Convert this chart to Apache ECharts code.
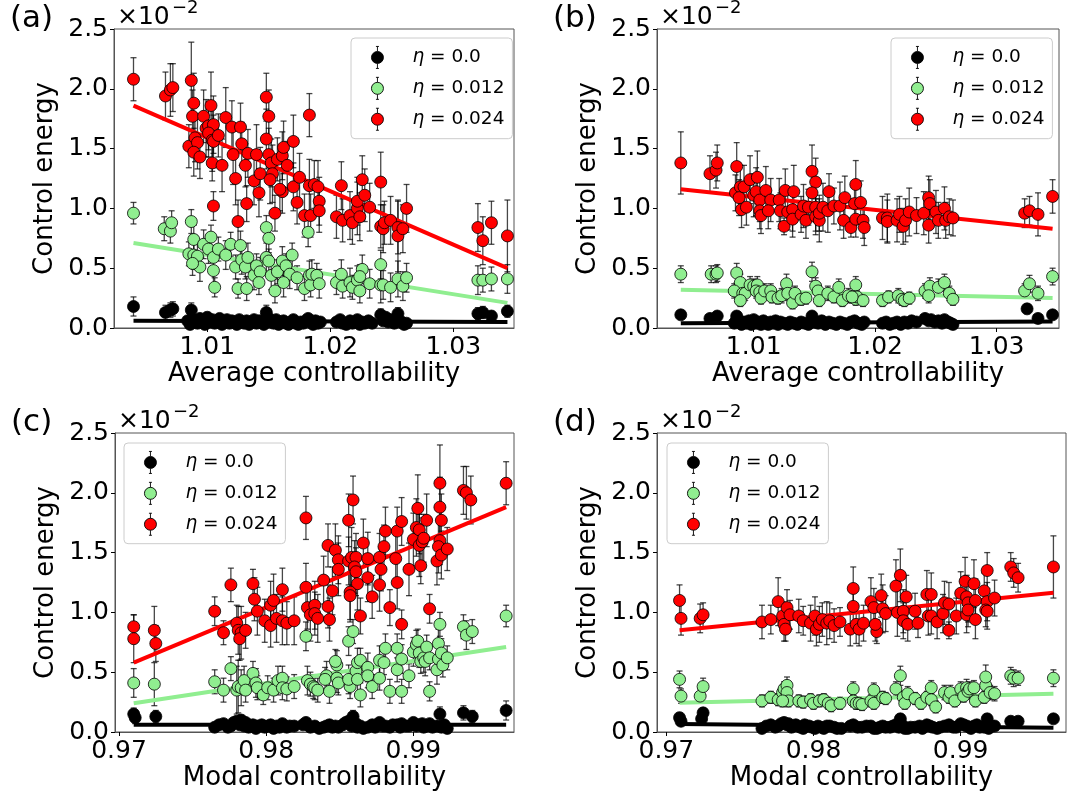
<!DOCTYPE html>
<html><head><meta charset="utf-8">
<script src="https://cdn.jsdelivr.net/npm/echarts@6/dist/echarts.min.js"></script>
<style>html,body{margin:0;padding:0;background:#fff}#c{width:1069px;height:801px}</style>
</head><body><div id="c"></div>
<script>
// ---------- tick labels ----------
const yTicks = [0, 0.5, 1.0, 1.5, 2.0, 2.5];
const avgTicks = [1.01, 1.02, 1.03];
const modTicks = [0.97, 0.98, 0.99];
const seriesNames = ['0.0', '0.012', '0.024'];

// ---------- panel (a): average controllability, [x, y(x1e-2), err] ----------
const aRed = [[1.0040,2.08,0.18],[1.0066,1.94,0.20],[1.0070,1.99,0.22],[1.0072,2.01,0.20],[1.0087,2.07,0.32],[1.0089,1.88,0.25],[1.0088,1.77,0.22],[1.0085,1.52,0.18],[1.0090,1.59,0.20],[1.0092,1.55,0.22],[1.0089,1.47,0.20],[1.0094,1.43,0.18],[1.0097,1.77,0.22],[1.0099,1.67,0.24],[1.0101,1.69,0.20],[1.0103,1.86,0.28],[1.0105,1.70,0.24],[1.0101,1.63,0.20],[1.0104,1.57,0.26],[1.0105,1.56,0.22],[1.0109,1.61,0.18],[1.0104,1.38,0.15],[1.0105,1.02,0.12],[1.0112,1.36,0.22],[1.0115,1.76,0.25],[1.0120,1.68,0.22],[1.0127,1.68,0.20],[1.0128,1.54,0.18],[1.0121,1.45,0.25],[1.0123,1.25,0.22],[1.0133,1.46,0.20],[1.0131,1.36,0.18],[1.0132,1.04,0.15],[1.0125,0.89,0.18],[1.0138,1.23,0.20],[1.0140,1.45,0.25],[1.0142,1.13,0.20],[1.0143,1.29,0.22],[1.0148,1.93,0.20],[1.0150,1.77,0.22],[1.0148,1.58,0.25],[1.0150,1.45,0.22],[1.0152,1.38,0.20],[1.0153,1.29,0.24],[1.0151,1.24,0.20],[1.0155,0.96,0.15],[1.0157,1.41,0.18],[1.0161,1.44,0.20],[1.0162,1.51,0.22],[1.0165,1.36,0.20],[1.0161,1.14,0.18],[1.0159,1.16,0.18],[1.0170,1.56,0.22],[1.0170,1.18,0.20],[1.0173,1.05,0.18],[1.0175,1.26,0.20],[1.0179,0.94,0.18],[1.0183,1.78,0.18],[1.0183,1.19,0.22],[1.0184,0.94,0.18],[1.0187,1.20,0.20],[1.0190,1.18,0.22],[1.0191,1.06,0.20],[1.0191,0.98,0.18],[1.0205,0.93,0.18],[1.0209,1.19,0.20],[1.0210,0.90,0.18],[1.0216,0.94,0.20],[1.0218,0.88,0.18],[1.0222,1.00,0.22],[1.0222,1.06,0.20],[1.0224,0.93,0.20],[1.0226,1.24,0.20],[1.0228,1.11,0.22],[1.0232,1.01,0.20],[1.0241,1.22,0.25],[1.0241,0.85,0.18],[1.0243,0.83,0.20],[1.0244,0.88,0.18],[1.0249,0.90,0.20],[1.0255,0.84,0.22],[1.0255,0.77,0.30],[1.0259,0.83,0.20],[1.0262,1.00,0.20],[1.0320,0.84,0.20],[1.0324,0.73,0.20],[1.0331,0.88,0.18],[1.0344,0.77,0.30]];
const aGreen = [[1.0040,0.96,0.09],[1.0065,0.83,0.10],[1.0070,0.81,0.10],[1.0071,0.88,0.10],[1.0087,0.89,0.10],[1.0089,0.74,0.12],[1.0085,0.62,0.10],[1.0089,0.61,0.12],[1.0092,0.60,0.10],[1.0094,0.51,0.12],[1.0088,0.54,0.10],[1.0097,0.70,0.12],[1.0103,0.76,0.10],[1.0101,0.66,0.12],[1.0105,0.59,0.10],[1.0105,0.48,0.12],[1.0106,0.34,0.08],[1.0109,0.66,0.10],[1.0115,0.61,0.12],[1.0119,0.70,0.10],[1.0127,0.69,0.12],[1.0123,0.51,0.10],[1.0128,0.57,0.12],[1.0131,0.51,0.10],[1.0133,0.59,0.12],[1.0125,0.33,0.08],[1.0132,0.33,0.10],[1.0138,0.44,0.12],[1.0140,0.52,0.10],[1.0143,0.47,0.12],[1.0142,0.38,0.10],[1.0148,0.84,0.10],[1.0150,0.75,0.12],[1.0148,0.59,0.12],[1.0150,0.56,0.10],[1.0152,0.44,0.12],[1.0157,0.47,0.10],[1.0161,0.56,0.12],[1.0164,0.52,0.10],[1.0169,0.61,0.10],[1.0167,0.45,0.12],[1.0173,0.42,0.10],[1.0155,0.31,0.10],[1.0162,0.38,0.12],[1.0179,0.33,0.10],[1.0183,0.44,0.12],[1.0184,0.36,0.10],[1.0182,0.80,0.12],[1.0185,0.45,0.12],[1.0189,0.44,0.10],[1.0191,0.37,0.12],[1.0205,0.38,0.10],[1.0209,0.45,0.12],[1.0210,0.35,0.10],[1.0216,0.38,0.12],[1.0218,0.34,0.10],[1.0222,0.40,0.12],[1.0224,0.31,0.10],[1.0226,0.49,0.12],[1.0224,0.43,0.10],[1.0232,0.37,0.12],[1.0241,0.53,0.12],[1.0241,0.36,0.15],[1.0243,0.36,0.12],[1.0249,0.34,0.12],[1.0255,0.41,0.15],[1.0259,0.35,0.12],[1.0262,0.42,0.12],[1.0320,0.40,0.12],[1.0324,0.40,0.10],[1.0331,0.41,0.10],[1.0344,0.41,0.12]];
const aBlack = [[1.0040,0.18,0.08],[1.0066,0.13,0.06],[1.0070,0.15,0.06],[1.0072,0.16,0.06],[1.0087,0.15,0.06],[1.0148,0.13,0.06],[1.0241,0.11,0.05],[1.0255,0.12,0.05],[1.0320,0.12,0.05],[1.0324,0.13,0.05],[1.0331,0.10,0.04],[1.0344,0.14,0.05],
  [1.0084,0.06,0.03],[1.0086,0.03,0.03],[1.0088,0.07,0.03],[1.0090,0.05,0.03],[1.0092,0.04,0.03],[1.0094,0.08,0.03],[1.0096,0.06,0.03],[1.0098,0.03,0.03],[1.0100,0.09,0.04],[1.0102,0.05,0.03],[1.0104,0.07,0.03],[1.0106,0.04,0.03],[1.0108,0.06,0.03],[1.0110,0.08,0.03],[1.0112,0.03,0.03],[1.0114,0.05,0.03],[1.0116,0.07,0.03],[1.0118,0.04,0.03],[1.0120,0.06,0.03],[1.0122,0.05,0.03],[1.0124,0.03,0.03],[1.0126,0.07,0.03],[1.0128,0.05,0.03],[1.0130,0.04,0.03],[1.0132,0.06,0.03],[1.0134,0.03,0.03],[1.0136,0.05,0.03],[1.0138,0.07,0.03],[1.0140,0.04,0.03],[1.0142,0.06,0.03],[1.0144,0.05,0.03],[1.0146,0.03,0.03],[1.0150,0.08,0.03],[1.0152,0.05,0.03],[1.0154,0.04,0.03],[1.0156,0.07,0.03],[1.0158,0.03,0.03],[1.0160,0.05,0.03],[1.0162,0.06,0.03],[1.0164,0.04,0.03],[1.0166,0.03,0.03],[1.0168,0.05,0.03],[1.0170,0.07,0.03],[1.0172,0.04,0.03],[1.0174,0.03,0.03],[1.0176,0.05,0.03],[1.0178,0.04,0.03],[1.0180,0.06,0.03],[1.0182,0.08,0.03],[1.0184,0.05,0.03],[1.0186,0.03,0.03],[1.0188,0.06,0.03],[1.0190,0.04,0.03],[1.0192,0.05,0.03],[1.0205,0.05,0.03],[1.0208,0.07,0.03],[1.0210,0.04,0.03],[1.0213,0.03,0.03],[1.0216,0.06,0.03],[1.0218,0.04,0.03],[1.0220,0.05,0.03],[1.0222,0.07,0.03],[1.0224,0.03,0.03],[1.0226,0.05,0.03],[1.0228,0.04,0.03],[1.0231,0.06,0.03],[1.0234,0.04,0.03],[1.0243,0.06,0.03],[1.0245,0.09,0.03],[1.0247,0.05,0.03],[1.0249,0.07,0.03],[1.0252,0.04,0.03],[1.0255,0.06,0.03],[1.0258,0.05,0.03],[1.0260,0.03,0.03],[1.0262,0.04,0.03]];
const aFitRed = [[1.0040,1.86],[1.0344,0.50]];
const aFitGreen = [[1.0040,0.71],[1.0344,0.21]];
const aFitBlack = [[1.0040,0.06],[1.0344,0.05]];

// ---------- panel (b): average controllability ----------
const bRed = [[1.0040,1.38,0.26],[1.0064,1.29,0.15],[1.0069,1.32,0.15],[1.0070,1.38,0.15],[1.0086,1.35,0.20],[1.0085,1.13,0.15],[1.0089,1.18,0.18],[1.0088,1.09,0.15],[1.0090,0.99,0.15],[1.0092,1.18,0.18],[1.0094,1.01,0.15],[1.0097,1.24,0.20],[1.0100,1.11,0.18],[1.0103,1.26,0.22],[1.0102,1.14,0.20],[1.0105,1.07,0.18],[1.0105,0.98,0.15],[1.0106,0.94,0.15],[1.0110,1.15,0.20],[1.0114,1.07,0.18],[1.0112,0.98,0.15],[1.0121,1.07,0.18],[1.0122,0.98,0.15],[1.0125,0.85,0.07],[1.0126,1.15,0.18],[1.0128,0.97,0.15],[1.0132,0.99,0.18],[1.0132,0.91,0.15],[1.0133,1.14,0.22],[1.0139,0.95,0.15],[1.0141,1.02,0.18],[1.0143,0.90,0.15],[1.0145,1.01,0.15],[1.0148,1.31,0.22],[1.0151,1.22,0.20],[1.0148,1.13,0.18],[1.0151,1.01,0.20],[1.0151,0.93,0.15],[1.0154,0.90,0.18],[1.0154,0.96,0.15],[1.0157,1.01,0.20],[1.0161,0.98,0.18],[1.0162,1.14,0.15],[1.0166,1.02,0.15],[1.0171,1.02,0.20],[1.0174,0.90,0.15],[1.0175,1.09,0.18],[1.0180,0.84,0.08],[1.0184,1.20,0.20],[1.0183,1.04,0.18],[1.0184,0.91,0.15],[1.0188,1.05,0.18],[1.0190,0.90,0.15],[1.0191,0.84,0.15],[1.0206,0.92,0.18],[1.0210,0.92,0.20],[1.0210,0.89,0.18],[1.0218,0.90,0.18],[1.0220,0.95,0.15],[1.0223,0.85,0.15],[1.0225,0.90,0.18],[1.0228,0.97,0.20],[1.0234,0.94,0.15],[1.0240,0.96,0.18],[1.0244,1.09,0.18],[1.0245,1.04,0.20],[1.0244,0.86,0.15],[1.0250,0.97,0.18],[1.0252,0.90,0.15],[1.0257,1.00,0.18],[1.0258,0.90,0.15],[1.0261,0.93,0.15],[1.0264,0.92,0.15],[1.0323,0.96,0.12],[1.0327,0.98,0.12],[1.0334,0.95,0.18],[1.0346,1.10,0.14]];
const bGreen = [[1.0040,0.45,0.07],[1.0065,0.45,0.07],[1.0069,0.45,0.07],[1.0070,0.46,0.07],[1.0086,0.46,0.08],[1.0089,0.38,0.07],[1.0084,0.31,0.06],[1.0091,0.29,0.06],[1.0093,0.29,0.06],[1.0097,0.36,0.07],[1.0100,0.35,0.06],[1.0103,0.36,0.07],[1.0102,0.31,0.06],[1.0105,0.30,0.06],[1.0106,0.25,0.05],[1.0109,0.31,0.06],[1.0114,0.31,0.06],[1.0115,0.26,0.05],[1.0120,0.25,0.05],[1.0123,0.27,0.06],[1.0127,0.37,0.08],[1.0128,0.29,0.06],[1.0132,0.21,0.05],[1.0134,0.29,0.06],[1.0139,0.24,0.05],[1.0143,0.25,0.05],[1.0148,0.47,0.08],[1.0151,0.35,0.07],[1.0153,0.31,0.06],[1.0154,0.23,0.05],[1.0161,0.29,0.06],[1.0166,0.26,0.05],[1.0170,0.34,0.07],[1.0173,0.23,0.05],[1.0178,0.27,0.06],[1.0184,0.36,0.07],[1.0184,0.24,0.05],[1.0089,0.23,0.05],[1.0185,0.26,0.05],[1.0190,0.23,0.05],[1.0181,0.26,0.05],[1.0206,0.23,0.05],[1.0211,0.26,0.05],[1.0219,0.27,0.06],[1.0222,0.24,0.05],[1.0224,0.23,0.05],[1.0228,0.25,0.05],[1.0241,0.31,0.06],[1.0245,0.35,0.07],[1.0252,0.34,0.07],[1.0257,0.38,0.07],[1.0261,0.29,0.06],[1.0264,0.24,0.05],[1.0244,0.27,0.06],[1.0323,0.31,0.06],[1.0327,0.37,0.07],[1.0334,0.29,0.06],[1.0346,0.43,0.07]];
const bBlack = [[1.0040,0.11,0.03],[1.0064,0.08,0.03],[1.0070,0.10,0.03],[1.0086,0.10,0.03],[1.0148,0.10,0.03],[1.0325,0.16,0.04],[1.0334,0.08,0.03],[1.0346,0.11,0.03],
  [1.0084,0.04,0.02],[1.0086,0.07,0.02],[1.0088,0.06,0.02],[1.0090,0.03,0.02],[1.0092,0.05,0.02],[1.0094,0.04,0.02],[1.0096,0.06,0.02],[1.0098,0.03,0.02],[1.0100,0.07,0.02],[1.0102,0.04,0.02],[1.0104,0.05,0.02],[1.0106,0.03,0.02],[1.0108,0.06,0.02],[1.0110,0.04,0.02],[1.0112,0.03,0.02],[1.0114,0.05,0.02],[1.0116,0.04,0.02],[1.0118,0.06,0.02],[1.0120,0.03,0.02],[1.0122,0.05,0.02],[1.0125,0.04,0.02],[1.0128,0.03,0.02],[1.0130,0.05,0.02],[1.0133,0.04,0.02],[1.0136,0.03,0.02],[1.0139,0.05,0.02],[1.0142,0.04,0.02],[1.0145,0.03,0.02],[1.0150,0.05,0.02],[1.0153,0.04,0.02],[1.0156,0.06,0.02],[1.0159,0.03,0.02],[1.0162,0.05,0.02],[1.0165,0.04,0.02],[1.0168,0.03,0.02],[1.0171,0.05,0.02],[1.0174,0.04,0.02],[1.0177,0.03,0.02],[1.0180,0.05,0.02],[1.0183,0.06,0.02],[1.0186,0.04,0.02],[1.0189,0.03,0.02],[1.0191,0.05,0.02],[1.0206,0.04,0.02],[1.0209,0.05,0.02],[1.0212,0.03,0.02],[1.0215,0.04,0.02],[1.0218,0.05,0.02],[1.0221,0.03,0.02],[1.0224,0.05,0.02],[1.0227,0.04,0.02],[1.0230,0.06,0.02],[1.0234,0.05,0.02],[1.0241,0.08,0.03],[1.0244,0.06,0.02],[1.0246,0.07,0.02],[1.0249,0.05,0.02],[1.0252,0.06,0.02],[1.0255,0.04,0.02],[1.0257,0.07,0.02],[1.0260,0.05,0.02],[1.0262,0.04,0.02],[1.0264,0.03,0.02]];
const bFitRed = [[1.0040,1.16],[1.0346,0.83]];
const bFitGreen = [[1.0040,0.32],[1.0346,0.25]];
const bFitBlack = [[1.0040,0.04],[1.0346,0.055]];

// ---------- panel (c): modal controllability ----------
const cRed = [[0.9710,0.88,0.10],[0.9710,0.78,0.20],[0.9724,0.85,0.20],[0.9725,0.74,0.15],[0.9765,1.01,0.12],[0.9771,0.83,0.10],[0.9776,1.23,0.14],[0.9780,0.91,0.15],[0.9781,0.85,0.20],[0.9783,0.83,0.22],[0.9782,0.78,0.18],[0.9786,0.85,0.15],[0.9791,1.24,0.12],[0.9792,1.11,0.18],[0.9794,1.01,0.20],[0.9799,0.93,0.18],[0.9803,1.06,0.20],[0.9803,0.89,0.18],[0.9805,1.10,0.22],[0.9807,0.95,0.20],[0.9811,1.19,0.18],[0.9811,0.93,0.20],[0.9814,0.91,0.18],[0.9819,0.93,0.20],[0.9827,1.79,0.18],[0.9827,1.21,0.20],[0.9828,1.04,0.18],[0.9830,0.98,0.22],[0.9833,1.06,0.20],[0.9833,0.99,0.18],[0.9835,0.95,0.20],[0.9839,1.27,0.20],[0.9842,1.05,0.18],[0.9843,0.94,0.18],[0.9845,1.18,0.20],[0.9842,1.56,0.18],[0.9847,1.52,0.22],[0.9849,1.44,0.20],[0.9849,1.36,0.22],[0.9856,1.77,0.22],[0.9859,1.94,0.20],[0.9856,1.43,0.20],[0.9858,1.46,0.25],[0.9861,1.46,0.20],[0.9860,1.38,0.22],[0.9861,1.34,0.20],[0.9862,1.24,0.22],[0.9857,1.17,0.25],[0.9857,1.14,0.20],[0.9866,1.58,0.20],[0.9864,0.97,0.15],[0.9869,1.45,0.22],[0.9869,1.29,0.20],[0.9872,1.13,0.18],[0.9877,1.46,0.20],[0.9878,1.36,0.18],[0.9877,1.23,0.22],[0.9880,1.55,0.18],[0.9881,1.68,0.20],[0.9884,1.04,0.15],[0.9889,1.68,0.20],[0.9888,1.45,0.22],[0.9889,1.25,0.22],[0.9892,1.76,0.20],[0.9897,1.36,0.22],[0.9892,0.90,0.12],[0.9900,1.61,0.22],[0.9902,1.71,0.24],[0.9903,1.87,0.28],[0.9904,1.56,0.26],[0.9904,1.69,0.20],[0.9906,1.59,0.20],[0.9905,1.39,0.15],[0.9909,1.77,0.22],[0.9911,1.03,0.12],[0.9907,1.62,0.20],[0.9918,2.08,0.32],[0.9918,1.88,0.25],[0.9919,1.77,0.22],[0.9918,1.60,0.20],[0.9917,1.55,0.22],[0.9916,1.43,0.20],[0.9919,1.48,0.20],[0.9923,1.53,0.18],[0.9934,2.02,0.20],[0.9936,2.00,0.22],[0.9939,1.94,0.20],[0.9963,2.08,0.18]];
const cGreen = [[0.9710,0.41,0.12],[0.9724,0.40,0.18],[0.9765,0.42,0.10],[0.9771,0.35,0.10],[0.9776,0.53,0.10],[0.9780,0.35,0.20],[0.9781,0.38,0.22],[0.9783,0.37,0.15],[0.9785,0.43,0.12],[0.9786,0.35,0.10],[0.9791,0.49,0.10],[0.9793,0.41,0.12],[0.9794,0.37,0.10],[0.9798,0.31,0.08],[0.9801,0.37,0.10],[0.9805,0.35,0.10],[0.9808,0.43,0.12],[0.9811,0.45,0.10],[0.9811,0.37,0.10],[0.9814,0.36,0.10],[0.9819,0.38,0.10],[0.9827,0.80,0.12],[0.9828,0.43,0.12],[0.9830,0.40,0.10],[0.9832,0.38,0.10],[0.9833,0.37,0.10],[0.9835,0.35,0.10],[0.9841,0.47,0.12],[0.9843,0.34,0.10],[0.9840,0.44,0.10],[0.9848,0.56,0.12],[0.9847,0.59,0.10],[0.9848,0.45,0.12],[0.9849,0.41,0.10],[0.9856,0.76,0.12],[0.9859,0.84,0.10],[0.9857,0.38,0.10],[0.9856,0.44,0.12],[0.9861,0.51,0.10],[0.9862,0.58,0.12],[0.9864,0.60,0.10],[0.9862,0.44,0.12],[0.9864,0.31,0.10],[0.9869,0.54,0.12],[0.9869,0.47,0.10],[0.9872,0.38,0.10],[0.9877,0.60,0.12],[0.9877,0.45,0.10],[0.9881,0.70,0.12],[0.9880,0.58,0.10],[0.9884,0.34,0.10],[0.9889,0.70,0.12],[0.9889,0.52,0.10],[0.9892,0.34,0.10],[0.9892,0.61,0.12],[0.9897,0.47,0.10],[0.9900,0.67,0.12],[0.9902,0.73,0.12],[0.9903,0.76,0.10],[0.9904,0.66,0.12],[0.9905,0.59,0.10],[0.9907,0.62,0.12],[0.9909,0.71,0.10],[0.9911,0.34,0.08],[0.9908,0.59,0.12],[0.9911,0.62,0.10],[0.9916,0.52,0.12],[0.9917,0.61,0.10],[0.9917,0.74,0.12],[0.9918,0.90,0.10],[0.9919,0.66,0.12],[0.9920,0.56,0.10],[0.9923,0.62,0.10],[0.9934,0.88,0.10],[0.9936,0.81,0.12],[0.9940,0.84,0.10],[0.9963,0.97,0.09]];
const cBlack = [[0.9710,0.15,0.05],[0.9711,0.12,0.05],[0.9725,0.13,0.05],[0.9963,0.18,0.08],[0.9934,0.16,0.06],[0.9940,0.13,0.05],[0.9918,0.15,0.06],[0.9859,0.13,0.05],
  [0.9765,0.04,0.03],[0.9768,0.06,0.03],[0.9771,0.07,0.03],[0.9774,0.04,0.03],[0.9776,0.05,0.03],[0.9778,0.08,0.03],[0.9780,0.09,0.04],[0.9782,0.06,0.03],[0.9783,0.10,0.04],[0.9785,0.05,0.03],[0.9786,0.08,0.03],[0.9788,0.04,0.03],[0.9791,0.06,0.03],[0.9793,0.03,0.03],[0.9794,0.05,0.03],[0.9797,0.06,0.03],[0.9799,0.04,0.03],[0.9801,0.05,0.03],[0.9803,0.06,0.03],[0.9805,0.03,0.03],[0.9807,0.05,0.03],[0.9809,0.04,0.03],[0.9811,0.07,0.03],[0.9814,0.04,0.03],[0.9816,0.05,0.03],[0.9819,0.05,0.03],[0.9825,0.06,0.03],[0.9827,0.08,0.03],[0.9830,0.04,0.03],[0.9833,0.05,0.03],[0.9836,0.03,0.03],[0.9839,0.04,0.03],[0.9841,0.05,0.03],[0.9843,0.06,0.03],[0.9845,0.04,0.03],[0.9847,0.05,0.03],[0.9849,0.04,0.03],[0.9852,0.06,0.03],[0.9854,0.08,0.03],[0.9856,0.09,0.04],[0.9858,0.05,0.03],[0.9861,0.07,0.03],[0.9862,0.04,0.03],[0.9864,0.05,0.03],[0.9866,0.03,0.03],[0.9869,0.04,0.03],[0.9872,0.06,0.03],[0.9874,0.04,0.03],[0.9877,0.08,0.03],[0.9879,0.05,0.03],[0.9881,0.05,0.03],[0.9884,0.04,0.03],[0.9886,0.06,0.03],[0.9889,0.06,0.03],[0.9891,0.04,0.03],[0.9892,0.07,0.03],[0.9895,0.05,0.03],[0.9897,0.05,0.03],[0.9900,0.08,0.03],[0.9902,0.05,0.03],[0.9904,0.06,0.03],[0.9906,0.07,0.03],[0.9907,0.04,0.03],[0.9909,0.05,0.03],[0.9911,0.07,0.03],[0.9913,0.04,0.03],[0.9916,0.05,0.03],[0.9919,0.04,0.03],[0.9921,0.06,0.03],[0.9923,0.03,0.03]];
const cFitRed = [[0.9710,0.58],[0.9963,1.88]];
const cFitGreen = [[0.9710,0.24],[0.9963,0.71]];
const cFitBlack = [[0.9710,0.06],[0.9963,0.06]];

// ---------- panel (d): modal controllability ----------
const dRed = [[0.9709,1.10,0.13],[0.9710,0.95,0.14],[0.9723,0.95,0.12],[0.9725,0.98,0.10],[0.9765,0.92,0.14],[0.9771,0.94,0.12],[0.9776,1.09,0.20],[0.9779,0.97,0.12],[0.9780,0.90,0.14],[0.9781,0.86,0.10],[0.9782,1.04,0.15],[0.9784,0.98,0.12],[0.9790,0.97,0.14],[0.9793,0.93,0.12],[0.9798,0.91,0.15],[0.9801,0.97,0.16],[0.9802,0.86,0.14],[0.9804,0.90,0.15],[0.9806,0.94,0.14],[0.9809,0.91,0.18],[0.9811,0.93,0.15],[0.9814,0.89,0.14],[0.9818,0.92,0.12],[0.9825,0.86,0.14],[0.9827,1.20,0.18],[0.9827,1.05,0.18],[0.9829,0.90,0.16],[0.9831,0.86,0.14],[0.9834,0.91,0.15],[0.9839,1.09,0.20],[0.9841,1.04,0.16],[0.9843,0.84,0.10],[0.9842,0.90,0.14],[0.9846,1.14,0.18],[0.9847,1.03,0.20],[0.9849,0.99,0.15],[0.9856,1.22,0.22],[0.9859,1.31,0.22],[0.9857,1.00,0.20],[0.9861,1.01,0.18],[0.9861,0.93,0.15],[0.9863,1.13,0.18],[0.9864,0.90,0.14],[0.9869,1.01,0.15],[0.9871,0.91,0.12],[0.9877,1.15,0.20],[0.9880,1.15,0.18],[0.9878,0.97,0.16],[0.9880,0.97,0.15],[0.9884,0.92,0.14],[0.9888,0.99,0.16],[0.9889,1.08,0.18],[0.9892,1.07,0.18],[0.9892,0.85,0.07],[0.9897,0.97,0.15],[0.9900,1.16,0.18],[0.9903,1.26,0.20],[0.9904,1.13,0.18],[0.9905,1.08,0.16],[0.9904,0.98,0.15],[0.9905,1.02,0.14],[0.9909,1.24,0.20],[0.9910,1.10,0.18],[0.9910,0.94,0.16],[0.9916,1.18,0.15],[0.9918,1.35,0.15],[0.9918,1.09,0.16],[0.9917,1.02,0.14],[0.9918,1.01,0.15],[0.9923,1.12,0.15],[0.9934,1.38,0.12],[0.9936,1.33,0.12],[0.9939,1.29,0.12],[0.9963,1.38,0.26]];
const dGreen = [[0.9709,0.44,0.07],[0.9710,0.30,0.06],[0.9723,0.30,0.06],[0.9725,0.38,0.07],[0.9765,0.26,0.05],[0.9771,0.29,0.05],[0.9776,0.27,0.05],[0.9779,0.33,0.06],[0.9780,0.36,0.06],[0.9782,0.39,0.07],[0.9782,0.33,0.06],[0.9783,0.26,0.05],[0.9779,0.26,0.05],[0.9790,0.26,0.05],[0.9793,0.25,0.05],[0.9798,0.27,0.05],[0.9800,0.24,0.05],[0.9804,0.26,0.05],[0.9807,0.27,0.05],[0.9810,0.24,0.05],[0.9812,0.22,0.05],[0.9818,0.24,0.05],[0.9827,0.36,0.06],[0.9827,0.26,0.05],[0.9829,0.24,0.05],[0.9831,0.24,0.05],[0.9833,0.23,0.05],[0.9839,0.26,0.05],[0.9841,0.35,0.06],[0.9841,0.24,0.05],[0.9847,0.29,0.05],[0.9849,0.28,0.05],[0.9856,0.36,0.06],[0.9859,0.47,0.08],[0.9861,0.29,0.05],[0.9862,0.24,0.05],[0.9864,0.32,0.06],[0.9869,0.28,0.05],[0.9873,0.24,0.05],[0.9877,0.29,0.05],[0.9880,0.37,0.06],[0.9880,0.27,0.05],[0.9883,0.21,0.05],[0.9889,0.33,0.06],[0.9892,0.29,0.05],[0.9893,0.33,0.06],[0.9896,0.26,0.05],[0.9900,0.36,0.06],[0.9902,0.30,0.05],[0.9904,0.37,0.07],[0.9905,0.34,0.06],[0.9906,0.36,0.06],[0.9909,0.37,0.06],[0.9910,0.26,0.05],[0.9916,0.29,0.05],[0.9917,0.39,0.07],[0.9917,0.46,0.10],[0.9920,0.33,0.06],[0.9923,0.32,0.06],[0.9934,0.47,0.07],[0.9936,0.45,0.07],[0.9939,0.45,0.06],[0.9963,0.45,0.07]];
const dBlack = [[0.9709,0.12,0.04],[0.9710,0.09,0.03],[0.9725,0.16,0.04],[0.9724,0.11,0.03],[0.9859,0.11,0.04],[0.9918,0.11,0.04],[0.9934,0.09,0.03],[0.9939,0.09,0.03],[0.9963,0.11,0.03],
  [0.9765,0.03,0.02],[0.9768,0.05,0.02],[0.9771,0.06,0.02],[0.9774,0.04,0.02],[0.9776,0.05,0.02],[0.9778,0.07,0.02],[0.9780,0.08,0.03],[0.9782,0.06,0.02],[0.9783,0.07,0.02],[0.9785,0.04,0.02],[0.9786,0.05,0.02],[0.9788,0.06,0.02],[0.9791,0.04,0.02],[0.9793,0.03,0.02],[0.9794,0.06,0.02],[0.9797,0.05,0.02],[0.9799,0.04,0.02],[0.9801,0.03,0.02],[0.9803,0.05,0.02],[0.9805,0.04,0.02],[0.9807,0.03,0.02],[0.9809,0.05,0.02],[0.9811,0.05,0.02],[0.9814,0.04,0.02],[0.9816,0.03,0.02],[0.9819,0.03,0.02],[0.9825,0.05,0.02],[0.9827,0.06,0.02],[0.9830,0.04,0.02],[0.9833,0.04,0.02],[0.9836,0.05,0.02],[0.9839,0.05,0.02],[0.9841,0.03,0.02],[0.9843,0.03,0.02],[0.9845,0.04,0.02],[0.9847,0.05,0.02],[0.9849,0.04,0.02],[0.9852,0.04,0.02],[0.9854,0.05,0.02],[0.9856,0.06,0.02],[0.9858,0.04,0.02],[0.9861,0.05,0.02],[0.9862,0.03,0.02],[0.9864,0.03,0.02],[0.9866,0.04,0.02],[0.9869,0.04,0.02],[0.9872,0.05,0.02],[0.9874,0.03,0.02],[0.9877,0.06,0.02],[0.9879,0.05,0.02],[0.9881,0.04,0.02],[0.9884,0.03,0.02],[0.9886,0.04,0.02],[0.9889,0.05,0.02],[0.9891,0.05,0.02],[0.9892,0.06,0.02],[0.9895,0.04,0.02],[0.9897,0.04,0.02],[0.9900,0.07,0.02],[0.9902,0.06,0.02],[0.9904,0.05,0.02],[0.9906,0.04,0.02],[0.9907,0.03,0.02],[0.9909,0.05,0.02],[0.9911,0.06,0.02],[0.9913,0.04,0.02],[0.9916,0.04,0.02],[0.9919,0.03,0.02],[0.9921,0.05,0.02],[0.9923,0.05,0.02]];
const dFitRed = [[0.9709,0.85],[0.9963,1.165]];
const dFitGreen = [[0.9709,0.245],[0.9963,0.32]];
const dFitBlack = [[0.9709,0.067],[0.9963,0.036]];

// ---------- layout ----------
const FONT = "'DejaVu Sans', sans-serif";
const COLORS = ['#000000', '#90ee90', '#ff0000'];
const panels = [
  {grid:{left:114,top:29,width:400,height:299}, min:1.002415, max:1.034935, ticks:avgTicks, name:'Average controllability',
   sets:[aBlack,aGreen,aRed], fits:[aFitBlack,aFitGreen,aFitRed], legend:{left:351,top:38}, label:'(a)'},
  {grid:{left:657,top:29,width:402,height:299}, min:1.002041, max:1.035128, ticks:avgTicks, name:'Average controllability',
   sets:[bBlack,bGreen,bRed], fits:[bFitBlack,bFitGreen,bFitRed], legend:{left:891,top:38}, label:'(b)'},
  {grid:{left:115,top:433,width:399,height:299}, min:0.969728, max:0.996834, ticks:modTicks, name:'Modal controllability',
   sets:[cBlack,cGreen,cRed], fits:[cFitBlack,cFitGreen,cFitRed], legend:{left:124,top:443}, label:'(c)'},
  {grid:{left:657,top:433,width:409,height:299}, min:0.969368, max:0.997154, ticks:modTicks, name:'Modal controllability',
   sets:[dBlack,dGreen,dRed], fits:[dFitBlack,dFitGreen,dFitRed], legend:{left:667,top:443}, label:'(d)'}
];

function renderErr(params, api) {
  const x = api.value(0), y = api.value(1), e = api.value(2);
  const t = api.coord([x, y + e]), b = api.coord([x, y - e]);
  const cap = 3;
  const st = {stroke: 'rgba(0,0,0,0.72)', lineWidth: 1.3, fill: null};
  return {type: 'group', children: [
    {type:'line', shape:{x1:t[0], y1:t[1], x2:b[0], y2:b[1]}, style: st},
    {type:'line', shape:{x1:t[0]-cap, y1:t[1], x2:t[0]+cap, y2:t[1]}, style: st},
    {type:'line', shape:{x1:b[0]-cap, y1:b[1], x2:b[0]+cap, y2:b[1]}, style: st}
  ]};
}

const ICON = 'path://M7,0V5M5.5,0H8.5M7,17V22M5.5,22H8.5M1,11A6,6 0 1,0 13,11A6,6 0 1,0 1,11Z';

const grids = [], xAxes = [], yAxes = [], series = [], legends = [], graphics = [];
panels.forEach((p, i) => {
  grids.push(Object.assign({show:true, borderColor:'#555', borderWidth:1, backgroundColor:'#fff', outerBoundsMode:'none', containLabel:false}, p.grid));
  xAxes.push({
    type:'value', gridIndex:i, min:p.min, max:p.max,
    name:p.name, nameLocation:'middle', nameGap:32,
    nameTextStyle:{fontFamily:FONT, fontSize:26, color:'#000'},
    axisLine:{show:true, onZero:false, lineStyle:{color:'#555', width:1}},
    axisTick:{show:true, inside:false, length:4, customValues:p.ticks, lineStyle:{color:'#000', width:1}},
    axisLabel:{customValues:p.ticks, formatter:v => v.toFixed(2), fontFamily:FONT, fontSize:25, color:'#000', margin:7},
    splitLine:{show:false}
  });
  yAxes.push({
    type:'value', gridIndex:i, min:0, max:2.5, interval:0.5,
    name:'Control energy', nameLocation:'middle', nameGap:56, nameRotate:90,
    nameTextStyle:{fontFamily:FONT, fontSize:26, color:'#000'},
    axisLine:{show:true, lineStyle:{color:'#555', width:1}},
    axisTick:{show:true, inside:false, length:4, customValues:yTicks, lineStyle:{color:'#000', width:1}},
    axisLabel:{customValues:yTicks, formatter:v => v.toFixed(1), fontFamily:FONT, fontSize:25, color:'#000', margin:6},
    splitLine:{show:false}
  });
  p.fits.forEach((f, k) => {
    series.push({type:'line', name:'fit'+i+k, xAxisIndex:i, yAxisIndex:i, data:f, showSymbol:false, symbol:'none',
      lineStyle:{color:COLORS[k], width:4}, silent:true, z:2});
  });
  p.sets.forEach((d, k) => {
    series.push({type:'custom', name:'err'+i+k, xAxisIndex:i, yAxisIndex:i, data:d, renderItem:renderErr,
      encode:{x:0, y:1}, clip:true, silent:true, z:2});
    series.push({type:'scatter', name:seriesNames[k], xAxisIndex:i, yAxisIndex:i, data:d, encode:{x:0,y:1},
      symbol:'circle', symbolSize:12, itemStyle:{color:COLORS[k], borderColor:'#000', borderWidth:0.8, opacity:1}, z:2});
  });
  legends.push({
    orient:'vertical', left:p.legend.left, top:p.legend.top,
    data: seriesNames.map((n, k) => ({name:n, itemStyle:{color:COLORS[k], borderColor:'#000', borderWidth:0.9}})),
    icon: ICON, itemWidth:12, itemHeight:22, itemGap:8,
    padding:[8, 8, 8, 20], backgroundColor:'rgba(255,255,255,0.85)', borderColor:'#cccccc', borderWidth:1, borderRadius:4,
    selectedMode:false,
    formatter: n => '{i|η} = ' + n,
    textStyle:{fontFamily:FONT, fontSize:18.5, color:'#000', padding:[0,0,0,24],
      rich:{i:{fontFamily:FONT, fontStyle:'italic', fontSize:18.5, color:'#000'}}}
  });
  const gx = p.grid.left, gy = p.grid.top;
  graphics.push({type:'text', left: gx - 104, top: gy - 26, style:{text:p.label, font:"31px 'DejaVu Sans'", fill:'#000'}});
  graphics.push({type:'text', left: gx + 3, top: gy - 24, style:{text:'×10', font:"25px 'DejaVu Sans'", fill:'#000'}});
  graphics.push({type:'text', left: gx + 58, top: gy - 30, style:{text:'−2', font:"18px 'DejaVu Sans'", fill:'#000'}});
});

const chart = echarts.init(document.getElementById('c'), null, {renderer:'canvas'});
chart.setOption({
  animation:false, backgroundColor:'#ffffff',
  grid:grids, xAxis:xAxes, yAxis:yAxes, series:series, legend:legends, graphic:graphics
});
</script></body></html>
